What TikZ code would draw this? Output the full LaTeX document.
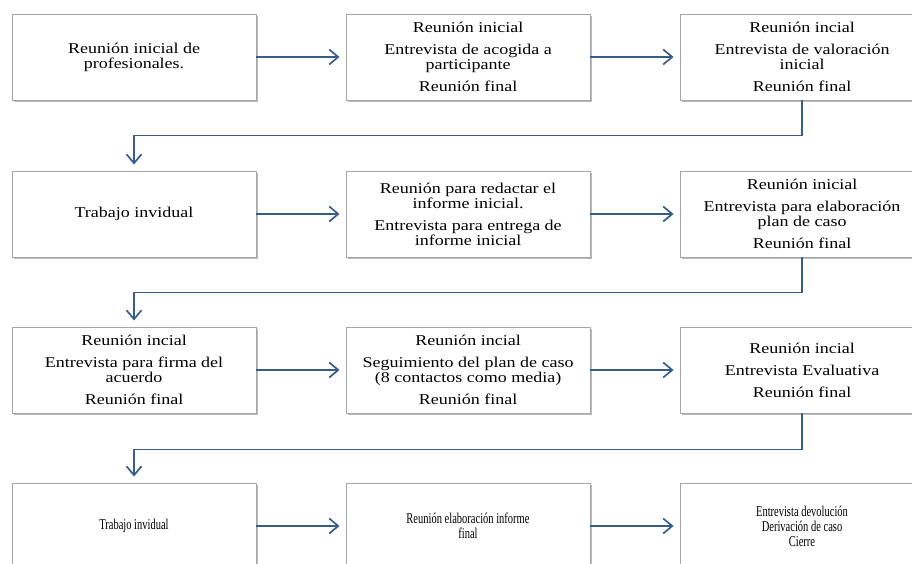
\documentclass[tikz,border=0pt]{standalone}
\usepackage{fontspec}
\setmainfont{Liberation Serif}[FakeStretch=1.2]
\newfontfamily\narrowfont{Liberation Serif}[FakeStretch=0.7]
\usetikzlibrary{arrows.meta,shadows}
\definecolor{linea}{RGB}{56,93,138}
\tikzset{
	caja/.style={draw=gray!70,line width=.9pt,fill=white,minimum width=244pt,minimum height=86pt,
		align=center,font=\fontsize{15}{15}\selectfont,
		drop shadow={shadow xshift=2pt,shadow yshift=-2pt,fill=black!45,opacity=.6}},
	angosta/.style={font=\narrowfont\fontsize{15}{15}\selectfont},
	flecha/.style={draw=linea,line width=1.7pt,shorten >=6pt,
		-{Straight Barb[length=9pt,width=15pt,line width=1.7pt]}}
}
\begin{document}
\begin{tikzpicture}[x=1pt,y=1pt]
\useasboundingbox (0,0) rectangle (912,564);
\begin{scope}
\clip (0,0) rectangle (912,564);
% fila 1
\node[caja] (a1) at (134,507) {Reunión inicial de\\profesionales.};
\node[caja] (a2) at (468,507) {Reunión inicial\\[7pt]Entrevista de acogida a\\participante\\[7pt]Reunión final};
\node[caja] (a3) at (802,507) {Reunión incial\\[7pt]Entrevista de valoración\\inicial\\[7pt]Reunión final};
% fila 2
\node[caja] (b1) at (134,350) {Trabajo invidual};
\node[caja] (b2) at (468,350) {Reunión para redactar el\\informe inicial.\\[7pt]Entrevista para entrega de\\informe inicial};
\node[caja] (b3) at (802,350) {Reunión inicial\\[7pt]Entrevista para elaboración\\plan de caso\\[7pt]Reunión final};
% fila 3
\node[caja] (c1) at (134,194) {Reunión incial\\[7pt]Entrevista para firma del\\acuerdo\\[7pt]Reunión final};
\node[caja] (c2) at (468,194) {Reunión incial\\[7pt]Seguimiento del plan de caso\\(8 contactos como media)\\[7pt]Reunión final};
\node[caja] (c3) at (802,194) {Reunión incial\\[7pt]Entrevista Evaluativa\\[7pt]Reunión final};
% fila 4
\node[caja,angosta] (d1) at (134,38) {Trabajo invidual};
\node[caja,angosta] (d2) at (468,38) {Reunión elaboración informe\\final};
\node[caja,angosta] (d3) at (802,38) {Entrevista devolución\\Derivación de caso\\Cierre};
% conectores
\draw[flecha] (a1) -- (a2);
\draw[flecha] (a2) -- (a3);
\draw[flecha] (a3.south) -- ++(0,-35) -| (b1.north);
\draw[flecha] (b1) -- (b2);
\draw[flecha] (b2) -- (b3);
\draw[flecha] (b3.south) -- ++(0,-35) -| (c1.north);
\draw[flecha] (c1) -- (c2);
\draw[flecha] (c2) -- (c3);
\draw[flecha] (c3.south) -- ++(0,-36) -| (d1.north);
\draw[flecha] (d1) -- (d2);
\draw[flecha] (d2) -- (d3);
\end{scope}
\end{tikzpicture}
\end{document}
